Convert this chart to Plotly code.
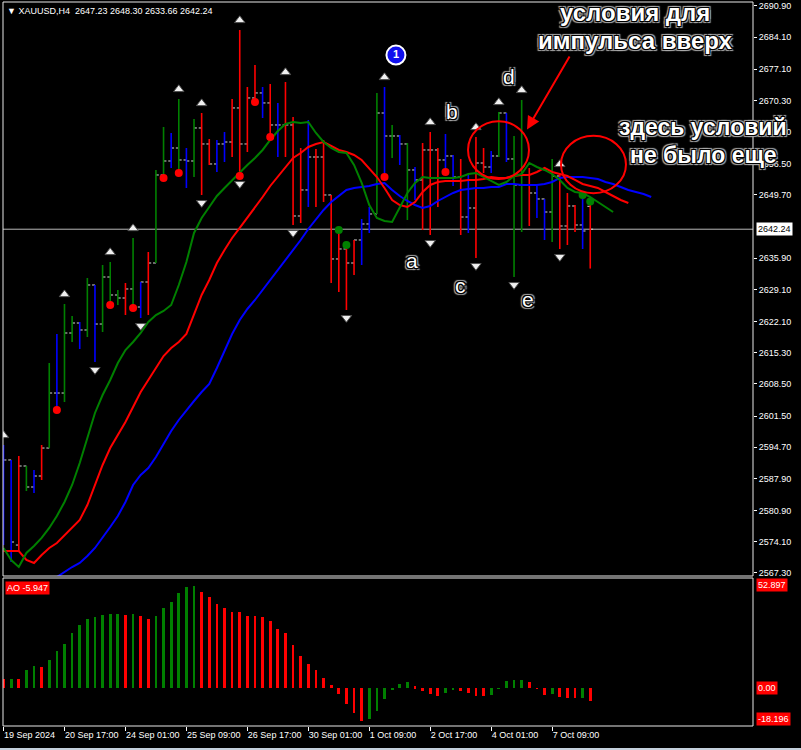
import plotly.graph_objects as go

symbol = "XAUUSD,H4"
time_tick_index = [0, 8, 16, 24, 32, 40, 48, 56, 64, 72]
time_tick_labels = ["19 Sep 2024", "20 Sep 17:00", "24 Sep 01:00", "25 Sep 09:00", "26 Sep 17:00",
                    "30 Sep 01:00", "1 Oct 09:00", "2 Oct 17:00", "4 Oct 01:00", "7 Oct 09:00"]
price_ticks = [2690.90, 2684.10, 2677.10, 2670.30, 2663.50, 2656.50, 2649.70, 2635.90, 2629.10,
               2622.10, 2615.30, 2608.50, 2601.50, 2594.70, 2587.90, 2580.90, 2574.10, 2567.30]

opens = [2583.21, 2591.93, 2573.39, 2590.62, 2586.04, 2588.44, 2594.54, 2606.53, 2606.53, 2619.61,
         2621.79, 2620.27, 2630.08, 2621.57, 2631.82, 2627.90, 2627.24, 2629.21, 2625.28, 2630.73,
         2634.87, 2654.06, 2657.11, 2659.94, 2657.33, 2657.11, 2664.31, 2660.82, 2656.46, 2660.82,
         2661.25, 2668.67, 2660.82, 2670.85, 2671.94, 2669.76, 2664.96, 2664.96, 2664.96, 2645.12,
         2650.79, 2657.98, 2657.98, 2649.70, 2635.75, 2637.93, 2634.87, 2639.89, 2643.38, 2645.56,
         2667.57, 2662.56, 2662.56, 2660.82, 2655.15, 2652.97, 2659.51, 2659.51, 2657.33, 2658.20,
         2653.62, 2644.90, 2646.86, 2656.67, 2655.80, 2658.20, 2667.57, 2657.55, 2651.88, 2651.88,
         2650.13, 2648.83, 2645.99, 2653.84, 2642.94, 2647.30, 2643.16, 2647.23]
highs = [2595.20, 2591.93, 2592.80, 2590.62, 2589.75, 2595.20, 2613.07, 2619.39, 2625.93, 2623.32,
         2622.01, 2631.60, 2630.08, 2634.44, 2635.09, 2628.99, 2630.51, 2640.32, 2630.73, 2637.27,
         2655.15, 2664.52, 2663.21, 2670.63, 2659.94, 2666.27, 2667.57, 2661.91, 2661.69, 2663.43,
         2670.63, 2685.67, 2673.24, 2678.04, 2673.24, 2673.90, 2669.76, 2674.33, 2666.70, 2659.94,
         2666.05, 2659.73, 2661.69, 2649.70, 2642.07, 2638.80, 2639.89, 2644.47, 2647.08, 2671.94,
         2673.24, 2664.96, 2662.78, 2661.03, 2655.80, 2661.03, 2663.43, 2659.94, 2663.00, 2658.42,
         2657.55, 2654.06, 2662.34, 2659.94, 2659.29, 2667.79, 2667.57, 2662.56, 2670.41, 2655.58,
         2651.66, 2648.83, 2657.55, 2654.28, 2650.13, 2647.52, 2649.70, 2648.30]
lows = [2573.39, 2569.69, 2571.87, 2585.17, 2584.73, 2587.57, 2594.54, 2602.83, 2604.57, 2617.65,
        2616.12, 2618.74, 2613.29, 2619.83, 2625.72, 2625.72, 2623.54, 2625.06, 2622.88, 2623.54,
        2634.87, 2653.40, 2655.58, 2654.49, 2651.22, 2653.62, 2649.70, 2656.24, 2654.71, 2656.89,
        2657.98, 2653.84, 2659.07, 2669.97, 2666.48, 2662.34, 2657.98, 2657.98, 2643.16, 2643.59,
        2647.08, 2647.08, 2648.17, 2630.51, 2628.55, 2624.63, 2632.26, 2634.44, 2641.41, 2645.56,
        2653.62, 2657.76, 2656.24, 2644.25, 2648.61, 2642.07, 2640.98, 2647.08, 2654.71, 2651.66,
        2640.98, 2641.41, 2635.96, 2654.49, 2654.49, 2657.98, 2656.89, 2631.82, 2641.63, 2642.94,
        2644.68, 2639.89, 2639.45, 2637.93, 2638.80, 2641.63, 2637.93, 2633.66]
closes = [2591.93, 2574.05, 2590.62, 2586.04, 2588.44, 2594.54, 2606.53, 2606.53, 2619.61, 2621.79,
          2620.27, 2630.08, 2621.57, 2631.82, 2627.90, 2627.24, 2629.21, 2625.28, 2630.73, 2634.87,
          2654.06, 2657.11, 2659.94, 2657.33, 2657.11, 2664.31, 2660.82, 2656.46, 2660.82, 2661.25,
          2668.67, 2660.82, 2670.85, 2671.94, 2669.76, 2664.96, 2664.96, 2664.96, 2645.12, 2650.79,
          2657.98, 2657.98, 2649.70, 2635.75, 2637.93, 2634.87, 2639.89, 2643.38, 2645.56, 2667.57,
          2662.56, 2662.56, 2660.82, 2655.15, 2652.97, 2659.51, 2659.51, 2657.33, 2658.20, 2653.62,
          2644.90, 2646.86, 2656.67, 2655.80, 2658.20, 2667.57, 2657.55, 2651.88, 2651.88, 2650.13,
          2648.83, 2645.99, 2653.84, 2642.94, 2647.30, 2643.16, 2641.85, 2642.24]
impulse = ["n", "n", "d", "u", "n", "d", "u", "n", "u", "u", "n", "u", "n", "u", "u", "u", "d", "u", "n", "d",
           "u", "u", "n", "u", "n", "u", "d", "d", "n", "n", "d", "d", "d", "d", "n", "d", "n", "d", "d", "d",
           "n", "d", "d", "d", "d", "d", "d", "n", "n", "u", "n", "u", "n", "u", "n", "d", "d", "d", "n", "n",
           "d", "n", "d", "d", "n", "u", "n", "u", "u", "d", "n", "n", "u", "d", "d", "d", "n", "d"]

lips = [2572.75, 2570.13, 2568.60, 2571.66, 2573.18, 2574.93, 2577.11, 2579.72, 2582.77, 2586.48,
        2591.28, 2596.94, 2602.18, 2606.10, 2609.37, 2613.08, 2615.91, 2617.65, 2619.62, 2622.01,
        2623.54, 2624.41, 2625.72, 2630.08, 2635.09, 2641.42, 2644.69, 2647.08, 2649.48, 2651.23,
        2652.97, 2654.50, 2656.24, 2657.77, 2659.51, 2661.69, 2663.65, 2665.18, 2665.61, 2665.40,
        2665.61, 2663.22, 2661.25, 2659.95, 2659.07, 2658.86, 2656.24, 2652.32, 2647.52, 2644.69,
        2644.03, 2643.81, 2646.87, 2650.14, 2652.32, 2653.62, 2653.41, 2653.41, 2653.41, 2653.41,
        2653.62, 2654.28, 2654.50, 2653.62, 2652.75, 2651.88, 2652.53, 2653.84, 2654.28, 2656.68,
        2655.80, 2655.15, 2654.28, 2652.97, 2651.23, 2650.35, 2650.14, 2649.26, 2648.17, 2647.08,
        2645.99]
teeth = [2572.09, 2572.09, 2572.09, 2570.13, 2569.48, 2571.22, 2572.75, 2573.84, 2575.58, 2577.32,
         2578.85, 2582.12, 2586.48, 2590.84, 2594.55, 2597.38, 2600.21, 2603.48, 2606.75, 2609.37,
         2611.99, 2614.60, 2616.35, 2617.65, 2619.40, 2623.54, 2627.90, 2631.17, 2634.88, 2637.71,
         2640.33, 2642.51, 2644.69, 2646.87, 2649.26, 2651.66, 2653.62, 2655.59, 2657.77, 2658.86,
         2660.16, 2660.82, 2661.25, 2660.38, 2659.51, 2659.07, 2658.42, 2657.33, 2655.59, 2653.62,
         2651.23, 2648.61, 2647.52, 2647.08, 2648.17, 2650.35, 2651.88, 2652.53, 2652.75, 2652.75,
         2652.75, 2652.97, 2652.97, 2653.19, 2653.62, 2653.41, 2653.41, 2653.84, 2654.06, 2654.06,
         2654.71, 2655.59, 2654.71, 2654.28, 2653.84, 2652.97, 2652.10, 2651.66, 2651.23, 2650.35,
         2649.48, 2648.61, 2647.96]
jaw_start = 7
jaw = [2566.42, 2567.51, 2568.60, 2569.48, 2571.00, 2572.75, 2574.93, 2577.32, 2579.72, 2582.77,
       2586.48, 2588.66, 2590.19, 2592.58, 2595.42, 2598.25, 2600.65, 2602.83, 2604.79, 2606.75,
       2608.50, 2611.99, 2615.69, 2619.40, 2622.45, 2624.85, 2626.81, 2628.99, 2631.17, 2633.35,
       2635.31, 2637.71, 2639.89, 2642.29, 2644.47, 2646.43, 2648.17, 2649.48, 2650.79, 2651.23,
       2651.44, 2651.66, 2652.10, 2652.32, 2650.79, 2649.48, 2648.39, 2647.52, 2646.87, 2647.30,
       2648.39, 2649.26, 2650.14, 2650.79, 2651.01, 2651.23, 2651.23, 2651.44, 2651.44, 2652.10,
       2652.10, 2651.88, 2651.88, 2651.88, 2652.10, 2652.53, 2653.41, 2653.62, 2653.62, 2653.62,
       2653.41, 2653.19, 2652.53, 2652.10, 2651.44, 2650.79, 2650.35, 2649.92, 2649.26]

ao = [4.4, 4.5, 4.4, 8.6, 10.8, 10.3, 13.5, 17.6, 21.3, 26.4,
      30.4, 33.1, 34.0, 35.0, 35.5, 35.8, 35.0, 35.7, 34.5, 33.2,
      34.7, 38.5, 41.3, 45.8, 48.5, 49.2, 46.3, 43.7, 40.4, 38.5,
      36.6, 36.4, 34.8, 34.7, 34.0, 32.3, 28.5, 26.7, 20.8, 15.4,
      11.6, 8.6, 4.9, 1.3, -2.9, -7.8, -11.9, -15.6, -14.6, -11.0,
      -5.4, -1.1, 2.2, 2.9, 0.8, -1.3, -2.7, -3.7, -2.2, -1.1,
      -1.6, -2.2, -3.7, -3.8, -3.2, -0.2, 3.3, 3.7, 3.8, 2.9,
      -0.3, -3.3, -2.7, -4.1, -4.6, -4.9, -4.8, -5.947]
ao_max = 52.897
ao_min = -18.196

fractal_up = [0, 8, 14, 17, 23, 26, 31, 37, 50, 56, 62, 65, 68, 73]
fractal_down = [12, 18, 26, 31, 38, 45, 56, 62, 67, 73]
dots_red_low = [7, 14, 17, 21, 23, 31, 33, 35, 50, 58]
dots_green_high = [44, 45, 76, 77]

letters = ["a", "b", "c", "d", "e"]
letter_x = [53.6, 58.9, 60.0, 66.3, 68.8]
letter_y = [2635.5, 2667.8, 2629.9, 2675.6, 2627.0]

GREEN = "#008000"
RED = "#ff0000"
BLUE = "#0000ff"
state_color = {"u": GREEN, "d": RED, "n": BLUE}
FONT = "Liberation Sans, Arial, sans-serif"
SMALL = 9

fig = go.Figure()

# open / close ticks
tx, ty = [], []
for i in range(len(opens)):
    tx += [i - 0.38, i, None, i, i + 0.38, None]
    ty += [opens[i], opens[i], None, closes[i], closes[i], None]
fig.add_trace(go.Scatter(x=tx, y=ty, mode="lines", line=dict(color="#d8d8d8", width=1),
                         hoverinfo="skip", showlegend=False, yaxis="y"))

# colored high-low bars
for st, col in state_color.items():
    bx, by = [], []
    for i in range(len(highs)):
        if impulse[i] == st:
            bx += [i, i, None]
            by += [lows[i], highs[i], None]
    fig.add_trace(go.Scatter(x=bx, y=by, mode="lines", line=dict(color=col, width=1.6),
                             hoverinfo="skip", showlegend=False, yaxis="y"))

# alligator lines
fig.add_trace(go.Scatter(x=list(range(jaw_start, jaw_start + len(jaw))), y=jaw, mode="lines",
                         line=dict(color=BLUE, width=2), showlegend=False, yaxis="y"))
fig.add_trace(go.Scatter(x=list(range(len(teeth))), y=teeth, mode="lines",
                         line=dict(color=RED, width=2), showlegend=False, yaxis="y"))
fig.add_trace(go.Scatter(x=list(range(len(lips))), y=lips, mode="lines",
                         line=dict(color=GREEN, width=2), showlegend=False, yaxis="y"))

# dots
fig.add_trace(go.Scatter(x=dots_red_low, y=[lows[i] for i in dots_red_low], mode="markers",
                         marker=dict(color=RED, size=8), showlegend=False, yaxis="y"))
fig.add_trace(go.Scatter(x=dots_green_high, y=[highs[i] for i in dots_green_high], mode="markers",
                         marker=dict(color=GREEN, size=8), showlegend=False, yaxis="y"))

# fractal arrows
fig.add_trace(go.Scatter(x=fractal_up, y=[highs[i] + 2.1 for i in fractal_up], mode="markers",
                         marker=dict(symbol="triangle-up", size=9, color="#f0f0f0",
                                     line=dict(color="#505050", width=1)),
                         showlegend=False, yaxis="y"))
fig.add_trace(go.Scatter(x=fractal_down, y=[lows[i] - 1.7 for i in fractal_down], mode="markers",
                         marker=dict(symbol="triangle-down", size=9, color="#f0f0f0",
                                     line=dict(color="#505050", width=1)),
                         showlegend=False, yaxis="y"))

# numbered marker
fig.add_trace(go.Scatter(x=[51.5], y=[2680.2], mode="markers+text", text=["<b>1</b>"],
                         textposition="middle center",
                         textfont=dict(color="white", size=11, family=FONT),
                         marker=dict(color="#1010ee", size=19, line=dict(color="white", width=2)),
                         showlegend=False, yaxis="y"))

# AO histogram
ao_colors = [GREEN if (i > 0 and ao[i] > ao[i - 1]) else RED for i in range(len(ao))]
fig.add_trace(go.Bar(x=list(range(len(ao))), y=ao, marker=dict(color=ao_colors, line=dict(width=0)),
                     width=0.36, showlegend=False, yaxis="y2"))

last_o, last_h, last_l, last_c = opens[-1], highs[-1], lows[-1], closes[-1]

halo = ("-1px -1px 0 #000,1px -1px 0 #000,-1px 1px 0 #000,1px 1px 0 #000,"
        "-2px -2px 1px #aaa,2px -2px 1px #aaa,-2px 2px 1px #aaa,2px 2px 1px #aaa")

annotations = []
for t, lx, ly in zip(letters, letter_x, letter_y):
    annotations.append(dict(x=lx, y=ly, xref="x", yref="y", text=t, showarrow=False,
                            font=dict(color="white", size=21, family=FONT, shadow=halo)))

annotations += [
    dict(xref="paper", yref="paper", x=632 / 750, y=1 - 10 / 724, text="<b>условия для</b>",
         showarrow=False, xanchor="center", yanchor="middle",
         font=dict(color="white", size=24, family=FONT, shadow=halo)),
    dict(xref="paper", yref="paper", x=632 / 750, y=1 - 38 / 724, text="<b>импульса вверх</b>",
         showarrow=False, xanchor="center", yanchor="middle",
         font=dict(color="white", size=24, family=FONT, shadow=halo)),
    dict(xref="paper", yref="paper", x=700 / 750, y=1 - 125 / 724, text="<b>здесь условий</b>",
         showarrow=False, xanchor="center", yanchor="middle",
         font=dict(color="white", size=23, family=FONT, shadow=halo)),
    dict(xref="paper", yref="paper", x=700 / 750, y=1 - 153 / 724, text="<b>не было еще</b>",
         showarrow=False, xanchor="center", yanchor="middle",
         font=dict(color="white", size=23, family=FONT, shadow=halo)),
    # red arrow
    dict(x=68.7, y=2664.0, xref="x", yref="y", ax=74.4, ay=2680.2, axref="x", ayref="y",
         text="", showarrow=True, arrowhead=2, arrowsize=1.3, arrowwidth=2, arrowcolor=RED),
    # header
    dict(xref="paper", yref="paper", x=2 / 750, y=1 - 9 / 724, xanchor="left", yanchor="middle",
         text="\u25bc\u00a0%s\u00a0\u00a0%.2f\u00a0%.2f\u00a0%.2f\u00a0%.2f" % (symbol, last_o, last_h, last_l, last_c),
         showarrow=False, font=dict(color="white", size=SMALL, family=FONT)),
    # AO label
    dict(xref="paper", yref="paper", x=2 / 750, y=(148 - 3) / 724, xanchor="left", yanchor="top",
         text="AO %.3f" % ao[-1], showarrow=False, bgcolor=RED, borderpad=1,
         font=dict(color="white", size=SMALL, family=FONT)),
    # AO scale labels
    dict(xref="paper", yref="y2", x=1.004, y=ao_max, xanchor="left", yanchor="top",
         text="%.3f" % ao_max, showarrow=False, bgcolor=RED, borderpad=1,
         font=dict(color="white", size=SMALL, family=FONT)),
    dict(xref="paper", yref="y2", x=1.004, y=0, xanchor="left", yanchor="middle",
         text="0.00", showarrow=False, bgcolor=RED, borderpad=1,
         font=dict(color="white", size=SMALL, family=FONT)),
    dict(xref="paper", yref="y2", x=1.004, y=ao_min, xanchor="left", yanchor="bottom",
         text="%.3f" % ao_min, showarrow=False, bgcolor=RED, borderpad=1,
         font=dict(color="white", size=SMALL, family=FONT)),
    # current price label
    dict(xref="paper", yref="y", x=1.004, y=last_c, xanchor="left", yanchor="middle",
         text="%.2f" % last_c, showarrow=False, bgcolor="white", borderpad=1,
         font=dict(color="black", size=SMALL, family=FONT)),
]

shapes = [
    dict(type="line", xref="paper", yref="y", x0=0, x1=1, y0=last_c, y1=last_c,
         line=dict(color="#b8b8b8", width=1), layer="below"),
    dict(type="rect", xref="paper", yref="y domain", x0=0, x1=1, y0=0, y1=1,
         line=dict(color="#e8e8e8", width=1)),
    dict(type="rect", xref="paper", yref="y2 domain", x0=0, x1=1, y0=0, y1=1,
         line=dict(color="#e8e8e8", width=1)),
    dict(type="circle", xref="x", yref="y", x0=60.96, x1=68.96, y0=2653.2, y1=2665.8,
         line=dict(color=RED, width=2)),
    dict(type="circle", xref="x", yref="y", x0=73.16, x1=81.69, y0=2650.1, y1=2662.6,
         line=dict(color=RED, width=2)),
    dict(type="rect", xref="paper", yref="paper", x0=-0.01, x1=1.07, y0=-22 / 724, y1=-25 / 724,
         line=dict(width=0), fillcolor="#c4d0dc"),
]

fig.update_layout(
    width=801, height=750,
    margin=dict(l=3, r=48, t=2, b=24, autoexpand=False),
    paper_bgcolor="black", plot_bgcolor="black",
    showlegend=False, bargap=0,
    xaxis=dict(range=[-0.07, 98.36], anchor="y2", tickmode="array", tickvals=time_tick_index,
               ticktext=time_tick_labels, ticks="outside", ticklen=4, tickcolor="white",
               ticklabelposition="outside right", tickangle=0, automargin=False,
               showgrid=False, zeroline=False, showline=False,
               tickfont=dict(color="white", size=SMALL, family=FONT)),
    yaxis=dict(domain=[150 / 724, 1], range=[2566.64, 2691.77], side="right", anchor="x",
               tickmode="array", tickvals=price_ticks, ticktext=["%.2f" % v for v in price_ticks],
               ticks="outside", ticklen=3, tickcolor="white", showgrid=False, zeroline=False,
               automargin=False, tickfont=dict(color="white", size=SMALL, family=FONT)),
    yaxis2=dict(domain=[0, 148 / 724], range=[ao_min, ao_max], side="right", anchor="x",
                showticklabels=False, ticks="", showgrid=False, zeroline=False, automargin=False),
    annotations=annotations,
    shapes=shapes,
)

fig.write_html("out.html")
